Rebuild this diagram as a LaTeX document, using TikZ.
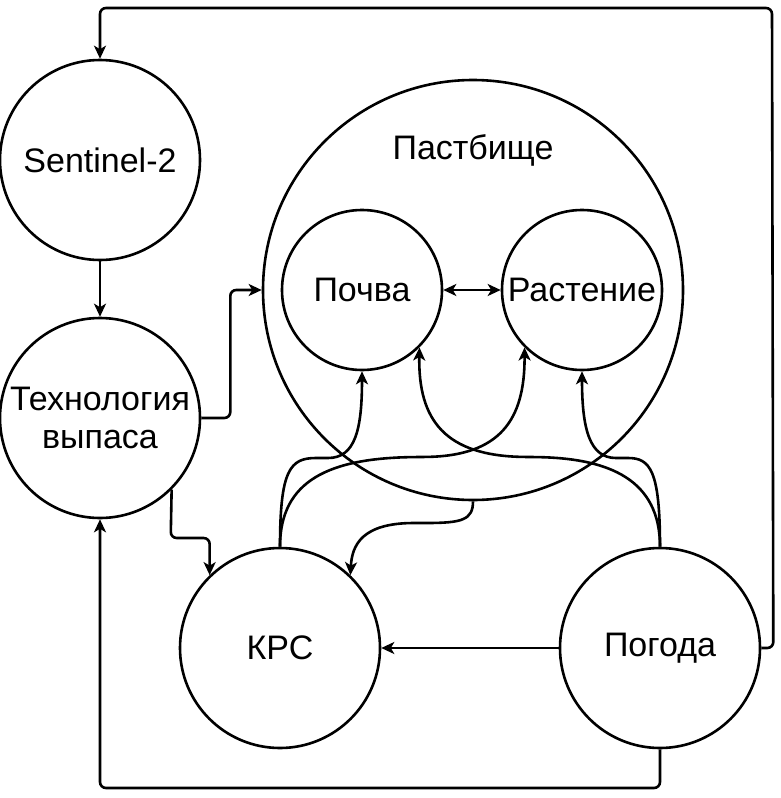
\documentclass[tikz,border=0pt]{standalone}
\usepackage{fontspec}
\setmainfont{Liberation Sans}
\usetikzlibrary{arrows.meta}
\begin{document}
\begin{tikzpicture}[x=1pt,y=-1pt,
  circ/.style={draw,circle,line width=2.6pt,inner sep=0pt,font=\fontsize{34}{40}\selectfont},
  lbl/.style={font=\fontsize{34}{40}\selectfont,inner sep=0pt},
  conn/.style={line width=2.6pt,-{Stealth[length=13pt,width=12pt,inset=3.5pt]},rounded corners=6pt},
  bconn/.style={line width=2.6pt,{Stealth[length=13pt,width=12pt,inset=3.5pt]}-{Stealth[length=13pt,width=12pt,inset=3.5pt]}}]
\useasboundingbox (0,0) rectangle (781,798);
\node[circ,minimum size=200pt] (sen) at (100,160) {Sentinel-2};
\node[circ,minimum size=200pt,align=center] (tech) at (100,418) {Технология\\[-2pt]выпаса};
\node[circ,minimum size=420pt] (past) at (473,290) {};
\node[lbl] (pastl) at (473,150) {Пастбище};
\node[circ,minimum size=160pt] (poc) at (362,290) {Почва};
\node[circ,minimum size=160pt] (ras) at (582,290) {Растение};
\node[circ,minimum size=200pt] (krs) at (280,648) {КРС};
\node[circ,minimum size=200pt] (pog) at (660,648) {Погода};
% straight / orthogonal
\draw[conn] (sen.south) -- (tech.north);
\draw[conn] (tech.east) -- ++(29,0) |- (past.west);
\draw[conn] (tech.-45) -- (170.7,538) -| (krs.134);
\draw[conn] (pog.west) -- (krs.east);
\draw[conn] (pog.east) -- ++(12,0) -- (772,8) -| (sen.north);
\draw[conn] (pog.south) -- (660,788) -| (tech.south);
\draw[bconn] (poc.east) -- (ras.west);
% curved
\draw[conn] (krs.north) .. controls (280,470) and (290,458) .. (322,458) .. controls (355,458) and (362,430) .. (poc.south);
\draw[conn] (krs.north) .. controls (280,480) and (330,458) .. (420,457) .. controls (500,456) and (525,420) .. (ras.-135);
\draw[conn] (pog.north) .. controls (660,480) and (610,458) .. (530,457) .. controls (445,456) and (418,420) .. (poc.-45);
\draw[conn] (pog.north) .. controls (660,470) and (650,458) .. (622,458) .. controls (590,458) and (582,430) .. (ras.south);
\draw[conn] (past.south) .. controls (473,520) and (462,523) .. (420,523) .. controls (362,523) and (352,545) .. (krs.46);
\end{tikzpicture}
\end{document}
